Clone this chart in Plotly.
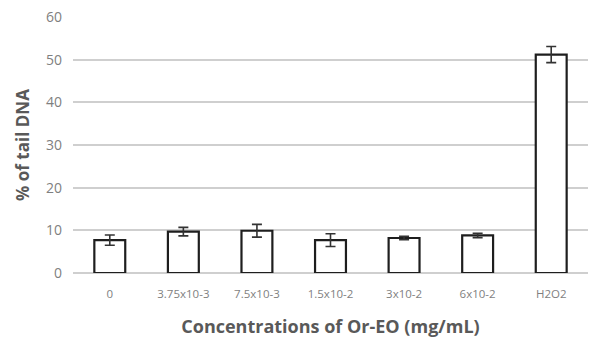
import plotly.graph_objects as go

categories = ["0", "3.75x10-3", "7.5x10-3", "1.5x10-2", "3x10-2", "6x10-2", "H2O2"]
tail_dna = [7.7, 9.7, 9.9, 7.7, 8.2, 8.8, 51.2]
errors = [1.2, 1.0, 1.5, 1.5, 0.4, 0.5, 1.9]
y_ticks = [0, 10, 20, 30, 40, 50, 60]

fig = go.Figure()
fig.add_trace(go.Bar(
    x=categories, y=tail_dna,
    marker=dict(color="white", line=dict(color="#1e1e1e", width=2.2)),
    error_y=dict(type="data", array=errors, visible=True, color="#333333",
                 thickness=1.6, width=5),
    width=0.42,
))

fig.update_layout(
    width=589, height=343,
    margin=dict(l=73, r=1, t=17, b=70),
    paper_bgcolor="white", plot_bgcolor="white",
    showlegend=False,
    font=dict(family="Open Sans", color="#595959"),
    xaxis=dict(
        title=dict(text="<b>Concentrations of Or-EO (mg/mL)</b>",
                   font=dict(size=18, color="#595959"), standoff=20),
        tickfont=dict(size=11.5, color="#7f7f7f"),
        showgrid=False, showline=False, ticks="", ticklabelstandoff=12,
    ),
    yaxis=dict(
        title=dict(text="<b>% of tail DNA</b>",
                   font=dict(size=17, color="#595959"), standoff=12),
        range=[0, 60], tickvals=y_ticks,
        tickfont=dict(size=14, color="#7f7f7f"),
        showgrid=True, gridcolor="#cfcfcf", gridwidth=1.5,
        zeroline=True, zerolinecolor="#cfcfcf", zerolinewidth=1.5,
        showline=False, ticks="", ticklabelstandoff=10,
    ),
)

fig.write_html("out.html")
